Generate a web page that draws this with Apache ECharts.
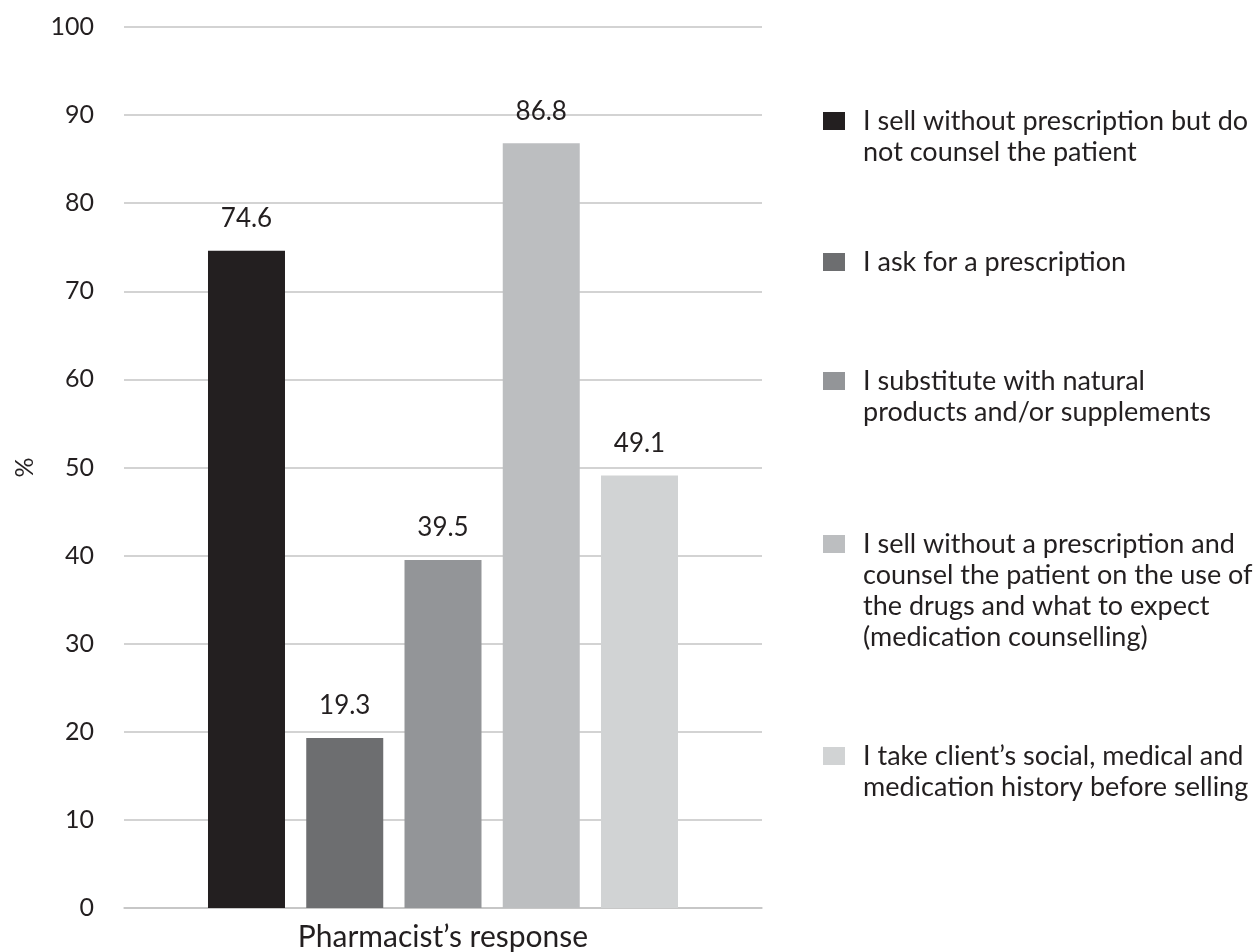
<!DOCTYPE html>
<html>
<head>
<meta charset="utf-8">
<script src="https://cdn.jsdelivr.net/npm/echarts@6/dist/echarts.min.js"></script>
<style>
html,body{margin:0;padding:0;background:#fff;}
#chart{width:1257px;height:952px;}
</style>
</head>
<body>
<div id="chart"></div>
<script>
const categories = ['Pharmacist\u2019s response'];
const seriesNames = [
  'I sell without prescription but do\nnot counsel the patient',
  'I ask for a prescription',
  'I substitute with natural\nproducts and/or supplements',
  'I sell without a prescription and\ncounsel the patient on the use of\nthe drugs and what to expect\n(medication counselling)',
  'I take client\u2019s social, medical and\nmedication history before selling'
];
const seriesValues = [74.6, 19.3, 39.5, 86.8, 49.1];
const seriesColors = ['#231f20', '#6d6e70', '#939598', '#bcbec0', '#d1d3d4'];
const yTicks = [0, 10, 20, 30, 40, 50, 60, 70, 80, 90, 100];
const legendLineCenters = [121, 262, 381, 544, 756];

const FONT = 'Lato';
const TXT = '#231f20';
const LH = 31;

const series = seriesNames.map((name, i) => ({
  name: name,
  type: 'bar',
  data: [seriesValues[i]],
  barWidth: 77,
  barGap: '27.6%',
  itemStyle: { color: seriesColors[i] },
  label: {
    show: true,
    position: 'top',
    distance: 19,
    fontFamily: FONT,
    fontSize: 26,
    color: TXT,
    formatter: (p) => p.value.toFixed(1)
  }
}));

const legends = seriesNames.map((name, i) => {
  const n = name.split('\n').length;
  const top = legendLineCenters[i] - (2 * n - 1) * LH / 2;
  return {
    data: [name],
    left: 823,
    top: top,
    orient: 'vertical',
    padding: 0,
    icon: 'rect',
    itemWidth: 22,
    itemHeight: 18,
    selectedMode: false,
    formatter: (nm) => {
      const k = nm.split('\n').length;
      return ' \n'.repeat(k - 1) + nm;
    },
    textStyle: {
      fontFamily: FONT,
      fontSize: 27,
      lineHeight: LH,
      color: TXT,
      padding: [0, 0, 0, 13]
    }
  };
});

const chart = echarts.init(document.getElementById('chart'));
chart.setOption({
  animation: false,
  backgroundColor: '#ffffff',
  legend: legends,
  grid: { left: 124, right: 495, top: 27, bottom: 41, containLabel: false },
  xAxis: {
    type: 'category',
    data: categories,
    axisTick: { show: false },
    axisLine: { show: true, lineStyle: { color: '#c4c4c4', width: 1.5 } },
    axisLabel: { fontFamily: FONT, fontSize: 30, color: TXT, margin: 14 }
  },
  yAxis: {
    type: 'value',
    min: yTicks[0],
    max: yTicks[yTicks.length - 1],
    interval: yTicks[1] - yTicks[0],
    name: '%',
    nameLocation: 'middle',
    nameRotate: 90,
    nameGap: 87,
    nameTextStyle: { fontFamily: FONT, fontSize: 25, color: TXT },
    axisLine: { show: false },
    axisTick: { show: false },
    splitLine: { lineStyle: { color: '#c4c4c4', width: 1.5 } },
    axisLabel: { fontFamily: FONT, fontSize: 25, color: TXT, margin: 30 }
  },
  series: series
});
</script>
</body>
</html>
